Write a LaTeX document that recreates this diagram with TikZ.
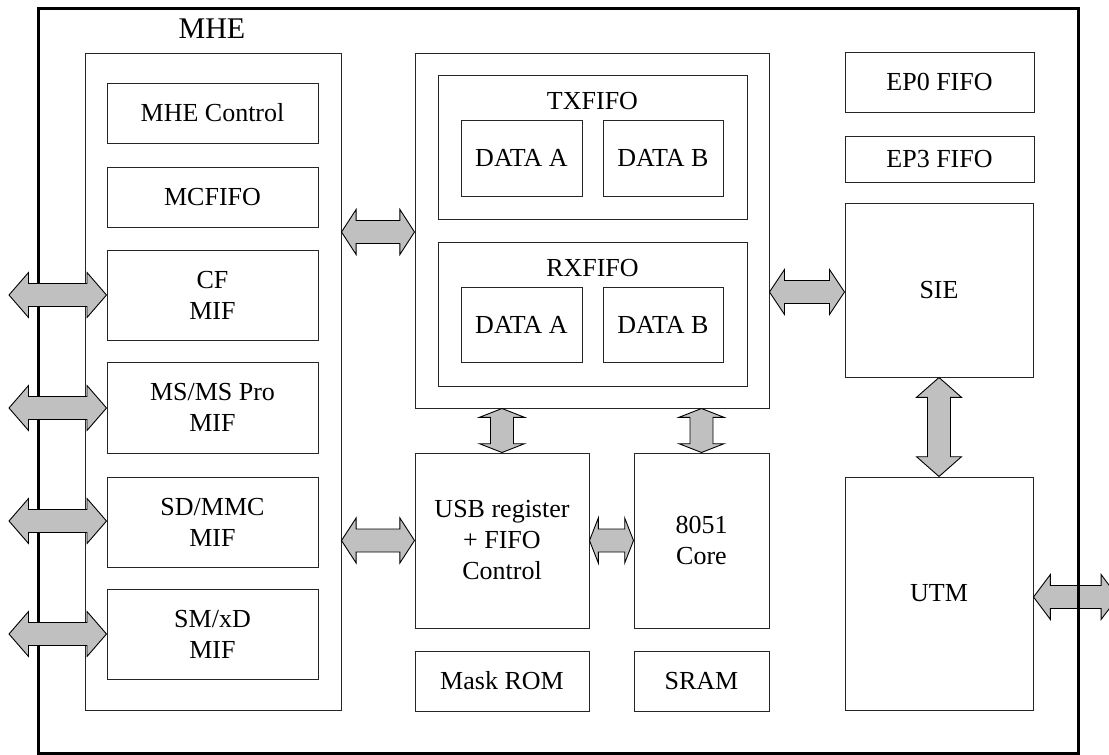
\documentclass[tikz,border=0pt]{standalone}
\usepackage{fontspec}
\setmainfont{Liberation Serif}
\usetikzlibrary{calc,fit}
\definecolor{arrgray}{RGB}{192,192,192}
\tikzset{
  box/.style={draw=black!85, line width=1pt, inner sep=0pt},
  lbl/.style={inner sep=0pt, align=center, font=\fontsize{26}{31}\selectfont},
  txt/.style={label={[lbl]center:{#1}}},
  dblarr/.style={draw=black, line width=0.9pt, fill=arrgray, line join=miter},
  frame/.style={draw=black, line width=3pt},
}
% horizontal double block arrow between two points (y taken from the first)
\newcommand\hdbl[2]{%
  \path[dblarr] let \p1=#1, \p2=#2, \n1={0.2*(\x2-\x1)} in
    (\x1,\y1) -- (\x1+\n1,\y1+22.5pt) -- (\x1+\n1,\y1+11.5pt) -- (\x2-\n1,\y1+11.5pt)
    -- (\x2-\n1,\y1+22.5pt) -- (\x2,\y1) -- (\x2-\n1,\y1-22.5pt) -- (\x2-\n1,\y1-11.5pt)
    -- (\x1+\n1,\y1-11.5pt) -- (\x1+\n1,\y1-22.5pt) -- cycle;}
% vertical double block arrow (x taken from the first; first point is the upper one)
\newcommand\vdbl[2]{%
  \path[dblarr] let \p1=#1, \p2=#2, \n1={0.2*(\y1-\y2)} in
    (\x1,\y1) -- (\x1+22.5pt,\y1-\n1) -- (\x1+11.5pt,\y1-\n1) -- (\x1+11.5pt,\y2+\n1)
    -- (\x1+22.5pt,\y2+\n1) -- (\x1,\y2) -- (\x1-22.5pt,\y2+\n1) -- (\x1-11.5pt,\y2+\n1)
    -- (\x1-11.5pt,\y1-\n1) -- (\x1-22.5pt,\y1-\n1) -- cycle;}
\begin{document}
\begin{tikzpicture}[x=1pt,y=-1pt]
\useasboundingbox (0,0) rectangle (1109,755);
\clip (0,0) rectangle (1109,755);

% MHE block
\node[box, fit={(85,53) (341,710)}] (mhe) {};
\node[lbl, font=\fontsize{30}{34}\selectfont] (mhelbl) at (212,29) {MHE};
\node[box, fit={(107,83) (318,143)}, txt={MHE Control}] (mhec) {};
\node[box, fit={(107,167) (318,227)}, txt={MCFIFO}] (mcfifo) {};
\node[box, fit={(107,250) (318,340)}, txt={CF\\MIF}] (cf) {};
\node[box, fit={(107,362) (318,453)}, txt={MS/MS Pro\\MIF}] (ms) {};
\node[box, fit={(107,477) (318,567)}, txt={SD/MMC\\MIF}] (sd) {};
\node[box, fit={(107,589) (318,679)}, txt={SM/xD\\MIF}] (sm) {};

% FIFO block
\node[box, fit={(415,53) (769,408)}] (fifo) {};
\node[box, fit={(438,75) (747,219)}] (tx) {};
\node[lbl] (txlbl) at (592.5,101.5) {TXFIFO};
\node[box, fit={(461,120) (582,196)}, txt={DATA A}] (txa) {};
\node[box, fit={(603,120) (723,196)}, txt={DATA B}] (txb) {};
\node[box, fit={(438,242) (747,386)}] (rx) {};
\node[lbl] (rxlbl) at (592.5,268) {RXFIFO};
\node[box, fit={(461,287) (582,362)}, txt={DATA A}] (rxa) {};
\node[box, fit={(603,287) (723,362)}, txt={DATA B}] (rxb) {};

% lower middle
\node[box, fit={(415,453) (589,628)}, txt={USB register\\+ FIFO\\Control}] (usb) {};
\node[box, fit={(634,453) (769,628)}, txt={8051\\Core}] (core) {};
\node[box, fit={(415,651) (589,711)}, txt={Mask ROM}] (rom) {};
\node[box, fit={(634,651) (769,711)}, txt={SRAM}] (sram) {};

% right column
\node[box, fit={(845,52) (1034,112)}, txt={EP0 FIFO}] (ep0) {};
\node[box, fit={(845,136) (1034,182)}, txt={EP3 FIFO}] (ep3) {};
\node[box, fit={(845,203) (1033,377)}, txt={SIE}] (sie) {};
\node[box, fit={(845,477) (1033,710)}, txt={UTM}] (utm) {};

% external arrow on the right (under the frame)
\coordinate (eUTM) at (1118,597);
\hdbl{(utm.east |- eUTM)}{(eUTM)}

% outer frame
\draw[frame] (38.5,8.5) rectangle (1078,753.5);

% external arrows on the left
\coordinate (eCF) at (9,295);
\coordinate (eMS) at (9,408);
\coordinate (eSD) at (9,521);
\coordinate (eSM) at (9,634);
\hdbl{(eCF)}{(cf.west)}
\hdbl{(eMS)}{(ms.west)}
\hdbl{(eSD)}{(sd.west)}
\hdbl{(eSM)}{(sm.west)}

% internal arrows
\coordinate (mid1) at (0,232);
\hdbl{(mhe.east |- mid1)}{(fifo.west |- mid1)}
\hdbl{(mhe.east |- usb.west)}{(usb.west)}
\hdbl{(usb.east)}{(core.west)}
\coordinate (mid2) at (0,292);
\hdbl{(fifo.east |- mid2)}{(sie.west |- mid2)}
\vdbl{(usb.north |- fifo.south)}{(usb.north)}
\vdbl{(core.north |- fifo.south)}{(core.north)}
\vdbl{(sie.south)}{(utm.north)}
\end{tikzpicture}
\end{document}
